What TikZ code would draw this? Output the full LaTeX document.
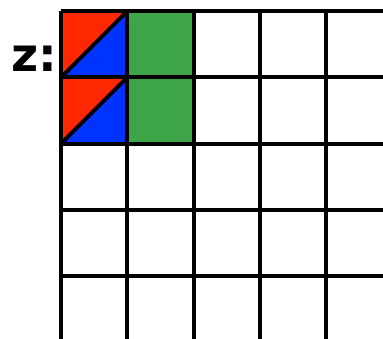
\documentclass[tikz,border=0pt]{standalone}
\usepackage{fontspec}
\newfontfamily\labelfont{DejaVu Sans}
\usepackage{xcolor}
\usepackage{tikz}
\definecolor{cellred}{RGB}{255,40,0}
\definecolor{cellblue}{RGB}{0,51,255}
\definecolor{cellgreen}{RGB}{61,164,71}
\begin{document}
\begin{tikzpicture}[line width=1.7pt]
\useasboundingbox (-0.92,0.166) rectangle (4.857,-4.947);
\fill[cellred] (0,0) -- (1,0) -- (0,-1) -- cycle;
\fill[cellblue] (1,0) -- (1,-1) -- (0,-1) -- cycle;
\fill[cellred] (0,-1) -- (1,-1) -- (0,-2) -- cycle;
\fill[cellblue] (1,-1) -- (1,-2) -- (0,-2) -- cycle;
\fill[cellgreen] (1,0) rectangle (2,-2);
\draw (0,-1) -- (1,0);
\draw (0,-2) -- (1,-1);
\draw (0,0) -- (0,-4.947);
\draw (1,0) -- (1,-4.947);
\draw (2,0) -- (2,-4.947);
\draw (3,0) -- (3,-4.947);
\draw (4,0) -- (4,-4.947);
\draw (0,0) -- (4.857,0);
\draw (0,-1) -- (4.857,-1);
\draw (0,-2) -- (4.857,-2);
\draw (0,-3) -- (4.857,-3);
\draw (0,-4) -- (4.857,-4);
\node[anchor=base, inner sep=0pt, font=\labelfont\bfseries\fontsize{20}{24}\selectfont] (zlabel) at (-0.407,-0.905) {z:};
\end{tikzpicture}
\end{document}
